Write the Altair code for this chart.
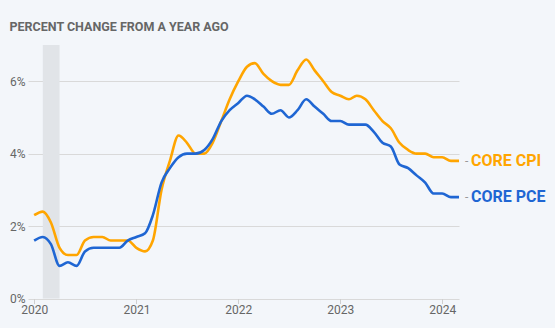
import altair as alt
import pandas as pd

months = pd.date_range("2020-01-01", "2024-03-01", freq="MS").strftime("%Y/%m/%d").tolist()

core_cpi = [
    2.3, 2.4, 2.1, 1.4, 1.2, 1.2, 1.6, 1.7, 1.7, 1.6, 1.6, 1.6,
    1.4, 1.3, 1.6, 3.0, 3.8, 4.5, 4.3, 4.0, 4.0, 4.3, 4.9, 5.5,
    6.0, 6.4, 6.5, 6.2, 6.0, 5.9, 5.9, 6.3, 6.6, 6.3, 6.0, 5.7,
    5.6, 5.5, 5.6, 5.5, 5.2, 4.9, 4.7, 4.3, 4.1, 4.0, 4.0, 3.9,
    3.9, 3.8, 3.8,
]
core_pce = [
    1.6, 1.7, 1.5, 0.9, 1.0, 0.9, 1.3, 1.4, 1.4, 1.4, 1.4, 1.6,
    1.7, 1.8, 2.3, 3.2, 3.6, 3.9, 4.0, 4.0, 4.1, 4.4, 4.9, 5.2,
    5.4, 5.6, 5.5, 5.3, 5.1, 5.2, 5.0, 5.2, 5.5, 5.3, 5.1, 4.9,
    4.9, 4.8, 4.8, 4.8, 4.6, 4.3, 4.2, 3.7, 3.6, 3.4, 3.2, 2.9,
    2.9, 2.8, 2.8,
]
series_names = ["CORE CPI", "CORE PCE"]
series_colors = ["#FFA500", "#1F66D3"]
recession = {"start": ["2020/02/01"], "end": ["2020/04/01"], "lo": [0], "hi": [7]}
y_ticks = [0, 2, 4, 6]
year_ticks = [2020, 2021, 2022, 2023, 2024]

df = pd.DataFrame({
    "date": months * 2,
    "value": core_cpi + core_pce,
    "series": [series_names[0]] * len(months) + [series_names[1]] * len(months),
})
last = df[df["date"] == months[-1]].copy()
last["dash"] = "-"
rec = pd.DataFrame(recession)

W, H = 431, 253.5
xscale = alt.Scale(domain=["2019/12/10", months[-1]])
yscale = alt.Scale(domain=[0, 7], nice=False)
color = alt.Color("series:N", scale=alt.Scale(domain=series_names, range=series_colors), legend=None)

band = alt.Chart(rec).mark_rect(color="#E1E4E8").encode(
    x=alt.X("start:T", scale=xscale,
            axis=alt.Axis(values=[alt.DateTime(year=y, month=1, date=1) for y in year_ticks],
                          format="%Y", title=None, grid=False, domain=False,
                          tickSize=5, tickColor="#cfcfcf", labelPadding=1,
                          labelFont="Roboto", labelFontSize=12, labelColor="#666666")),
    x2="end:T",
    y=alt.Y("lo:Q", scale=yscale,
            axis=alt.Axis(values=y_ticks, labelExpr="datum.value + '%'", title=None,
                          ticks=False, domain=False, gridColor="#d9d9d9",
                          labelPadding=3, labelFont="Roboto", labelFontSize=12,
                          labelColor="#666666")),
    y2="hi:Q",
)

lines = alt.Chart(df).mark_line(interpolate="monotone", strokeWidth=2.6).encode(
    x=alt.X("date:T", scale=xscale),
    y=alt.Y("value:Q", scale=yscale),
    color=color,
)

dash = alt.Chart(last).mark_text(align="left", dx=6, fontSize=12, color="#999999",
                                 font="Roboto").encode(
    x=alt.X("date:T", scale=xscale), y=alt.Y("value:Q", scale=yscale), text="dash:N")

labels = alt.Chart(last).mark_text(align="left", dx=12, fontSize=16, fontWeight="bold",
                                   font="Roboto").encode(
    x=alt.X("date:T", scale=xscale), y=alt.Y("value:Q", scale=yscale),
    text="series:N", color=color)

chart = alt.layer(band, lines, dash, labels).properties(
    width=W, height=H,
    title=alt.Title("PERCENT CHANGE FROM A YEAR AGO", anchor="start", frame="bounds",
                    font="Roboto", fontSize=12.5, fontWeight="bold",
                    color="#666666", offset=12, dx=0),
    autosize=alt.AutoSizeParams(type="none"),
    padding={"left": 28, "top": 45, "right": 96, "bottom": 29.5},
).configure(background="#F3F6FA").configure_view(stroke=None)

chart.save("out.html", embed_options={"renderer": "svg", "actions": False})
